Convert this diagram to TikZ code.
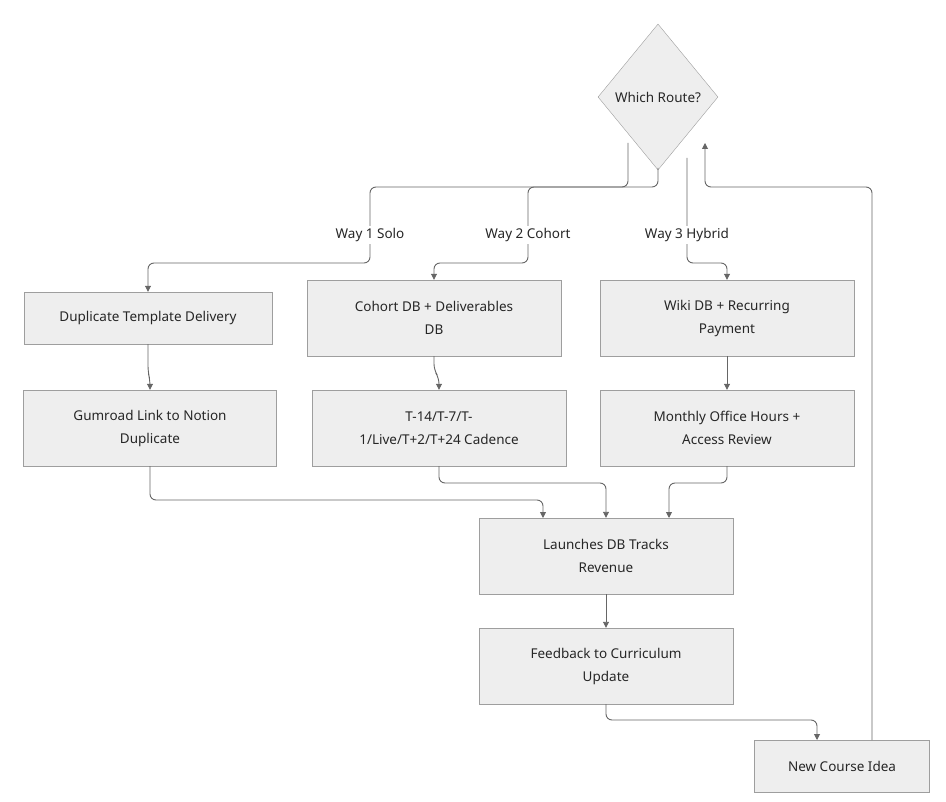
\documentclass[tikz,border=0pt]{standalone}
\usepackage{fontspec}
\setmainfont{Noto Sans}
\usetikzlibrary{shapes.geometric,arrows.meta}
\definecolor{bx}{HTML}{EEEEEE}
\definecolor{bd}{HTML}{9E9E9E}
\definecolor{ln}{HTML}{666666}
\begin{document}
\begin{tikzpicture}[x=1pt,y=-1pt,
 every node/.style={font=\fontsize{13.5}{23}\selectfont,text=black!85},
 box/.style={draw=bd,fill=bx,align=center,inner sep=0pt},
 e/.style={draw=ln,line width=0.9pt,rounded corners=6pt,-{Triangle[length=6pt,width=6pt]}},
 lab/.style={fill=white,inner sep=2pt}]
\useasboundingbox (0,0) rectangle (946,802);
\node[box,diamond,minimum width=120,minimum height=146] (d) at (658,97) {Which Route?};
\node[box,minimum width=248,minimum height=52] (dup) at (148,318) {Duplicate Template Delivery};
\node[box,minimum width=254,minimum height=76] (coh) at (434,318) {Cohort DB + Deliverables\\DB};
\node[box,minimum width=254,minimum height=76] (wiki) at (727,318) {Wiki DB + Recurring\\Payment};
\node[box,minimum width=253,minimum height=76] (gum) at (150,428) {Gumroad Link to Notion\\Duplicate};
\node[box,minimum width=254,minimum height=76] (t14) at (439,428) {T-14/T-7/T-\\1/Live/T+2/T+24 Cadence};
\node[box,minimum width=254,minimum height=76] (mon) at (727,428) {Monthly Office Hours +\\Access Review};
\node[box,minimum width=254,minimum height=76] (lau) at (606,556) {Launches DB Tracks\\Revenue};
\node[box,minimum width=254,minimum height=76] (fb) at (606,666) {Feedback to Curriculum\\Update};
\node[box,minimum width=175,minimum height=52] (new) at (842,766) {New Course Idea};
\coordinate (a1) at (628,143);
\draw[e] (a1) -- (628,187) -- (370,187) -- (370,263) -- (148,263) -- (dup.north);
\node[lab] at (370,235) {Way 1 Solo};
\draw[e] (658,168) -- (658,187) -- (528,187) -- (528,263) -- (434,263) -- (coh.north);
\node[lab] at (528,235) {Way 2 Cohort};
\draw[e] (687,158) -- (687,263) -- (727,263) -- (wiki.north);
\node[lab] at (687,235) {Way 3 Hybrid};
\draw[e] (dup.south) -- (148,372) -- (150,380) -- (gum.north);
\draw[e] (coh.south) -- (434,370) -- (439,378) -- (t14.north);
\draw[e] (wiki.south) -- (mon.north);
\draw[e] (gum.south) -- (150,500) -- (543,500) -- (543,518);
\draw[e] (t14.south) -- (439,483) -- (606,483) -- (lau.north);
\draw[e] (mon.south) -- (727,483) -- (669,483) -- (669,518);
\draw[e] (lau.south) -- (fb.north);
\draw[e] (fb.south) -- (606,720) -- (817,720) -- (817,740);
\draw[e] (872,740) -- (872,187) -- (705,187) -- (705,143);
\end{tikzpicture}
\end{document}
